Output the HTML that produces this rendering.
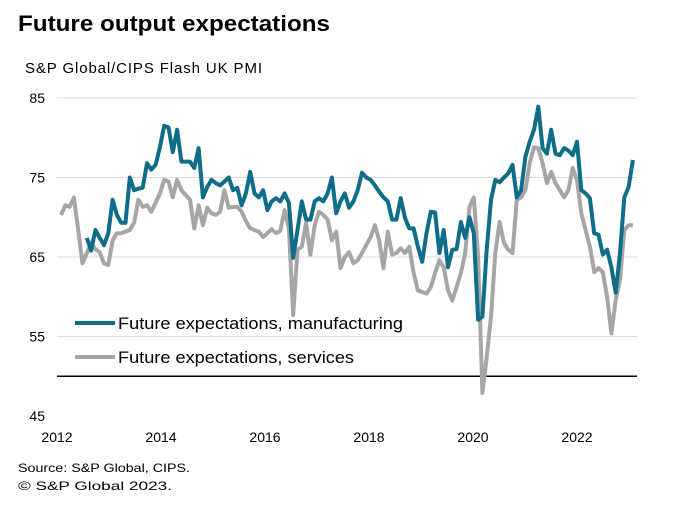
<!DOCTYPE html>
<html><head><meta charset="utf-8"><style>
body{margin:0;background:#fff;font-family:"Liberation Sans",Arial,sans-serif;}
svg{display:block}
</style></head><body>
<svg id="chart" width="673" height="526" xmlns="http://www.w3.org/2000/svg" font-family="Liberation Sans, Arial, sans-serif">
<text x="18" y="31" font-size="22" font-weight="bold" fill="#000" textLength="312" lengthAdjust="spacingAndGlyphs">Future output expectations</text>
<text x="25" y="73" font-size="15" fill="#000" textLength="237" lengthAdjust="spacing">S&amp;P Global/CIPS Flash UK PMI</text>
<g id="grid"></g>
<g id="yticks"></g>
<g id="xticks"></g>
<g id="series"></g>
<g>
<line x1="75" y1="323" x2="115" y2="323" stroke="#0f6d89" stroke-width="4"/>
<text x="118" y="329" font-size="17" fill="#000" textLength="285" lengthAdjust="spacingAndGlyphs">Future expectations, manufacturing</text>
<line x1="75" y1="357" x2="115" y2="357" stroke="#a6a6a6" stroke-width="4"/>
<text x="118" y="363" font-size="17" fill="#000" textLength="236" lengthAdjust="spacingAndGlyphs">Future expectations, services</text>
</g>
<text x="18" y="472" font-size="12" fill="#000" textLength="172" lengthAdjust="spacingAndGlyphs">Source: S&amp;P Global, CIPS.</text>
<text x="18" y="490" font-size="12" fill="#000" textLength="154" lengthAdjust="spacingAndGlyphs">© S&amp;P Global 2023.</text>
</svg>
<script>
const yTicks=[85,75,65,55,45];
const xTickLabels=["2012","2014","2016","2018","2020","2022"];
const startMonthOffset=-1;
const services=[70.3,71.5,71.3,72.5,68.4,64.2,65.5,66.8,66.0,65.6,64.2,64.0,67.1,68.0,68.0,68.2,68.4,69.3,72.2,71.3,71.5,70.7,71.8,73.0,74.7,74.5,72.5,74.7,73.4,72.8,72.2,68.6,71.5,69.0,71.2,70.5,70.3,70.7,73.4,71.2,71.3,71.3,70.7,69.5,68.6,68.4,68.2,67.5,68.0,68.5,68.0,68.3,70.9,68.6,57.7,65.9,66.3,69.3,65.3,69.0,70.7,70.3,69.7,67.1,68.2,63.6,65.0,65.6,64.2,64.6,65.5,66.5,67.5,69.0,67.1,63.6,68.2,65.3,65.5,66.1,65.5,66.3,63.0,60.8,60.6,60.4,61.2,63.0,64.6,63.7,60.8,59.5,61.2,63.0,65.5,71.3,72.5,65.0,47.9,52.4,57.5,65.5,69.4,66.8,65.9,65.5,72.2,72.5,73.4,76.8,78.8,78.7,76.8,74.3,75.7,74.3,73.4,72.5,73.4,76.2,74.7,70.5,68.4,66.3,63.1,63.6,63.1,60.0,55.4,59.6,62.1,68.4,69.0,69.0];
const manufacturing=[null,null,null,null,null,null,67.4,65.8,68.4,67.4,66.5,68.0,72.2,70.3,69.3,69.3,75.0,73.4,73.6,73.7,76.8,76.0,76.6,78.8,81.5,81.3,78.2,81.0,77.0,77.0,77.0,76.2,78.7,72.5,73.8,74.7,74.3,74.0,74.5,75.0,73.4,73.7,71.5,73.0,75.7,73.0,72.5,73.4,70.9,72.0,72.4,72.0,73.0,71.8,64.9,68.4,72.0,69.7,69.7,72.0,72.4,72.0,73.0,75.0,70.5,72.0,73.0,71.2,72.0,73.4,75.6,75.0,74.7,74.0,73.2,72.5,72.0,69.7,69.7,72.4,69.9,68.6,68.6,66.3,64.4,68.0,70.7,70.6,65.5,68.4,63.7,65.9,66.0,69.4,67.4,70.0,68.0,57.1,57.5,65.9,72.2,74.7,74.4,75.0,75.5,76.6,72.5,73.4,77.6,79.5,81.0,83.9,78.7,78.0,81.0,78.0,77.8,78.7,78.4,77.8,79.5,73.4,73.0,72.4,68.0,67.8,65.3,65.9,63.7,60.5,65.5,72.5,73.8,77.2];
const NS="http://www.w3.org/2000/svg";
const X0=57,X1=637,Y0=98,PX_PER_UNIT=7.95;
function y(v){return Y0+(85-v)*PX_PER_UNIT;}
function xMonth(m){return 61+(m+startMonthOffset+1)*4.3;}
function xYearLabel(i){return 57+i*104;}
function mk(tag,attrs,parent){const e=document.createElementNS(NS,tag);for(const k in attrs)e.setAttribute(k,attrs[k]);parent.appendChild(e);return e;}
const grid=document.getElementById('grid');
yTicks.forEach(t=>{
  if(t>50){const l=mk('line',{x1:X0,x2:X1,y1:y(t),y2:y(t),stroke:'#dcdcdc','stroke-width':1},grid);
  
  }
});
const base=mk('line',{x1:X0,x2:X1,y1:y(50),y2:y(50),stroke:'#000','stroke-width':1.5},grid);


const yt=document.getElementById('yticks');
yTicks.forEach(t=>{const e=mk('text',{x:45,y:y(t)+5,'font-size':14,'text-anchor':'end',fill:'#000'},yt);e.textContent=t;

});
const xt=document.getElementById('xticks');
xTickLabels.forEach((t,i)=>{const e=mk('text',{x:xYearLabel(i),y:442,'font-size':14,'text-anchor':'middle',fill:'#000'},xt);e.textContent=t;

});
function line(arr,color,name){let d='';let pen=false;arr.forEach((v,i)=>{if(v==null){pen=false;return;}d+=(pen?'L':'M')+xMonth(i).toFixed(1)+' '+y(v).toFixed(1)+' ';pen=true;});
const p=mk('path',{d:d,fill:'none',stroke:color,'stroke-width':4,'stroke-linejoin':'round'},document.getElementById('series'));

}
line(services,'#a6a6a6','line-services');
line(manufacturing,'#0f6d89','line-manufacturing');
</script>
</body></html>
